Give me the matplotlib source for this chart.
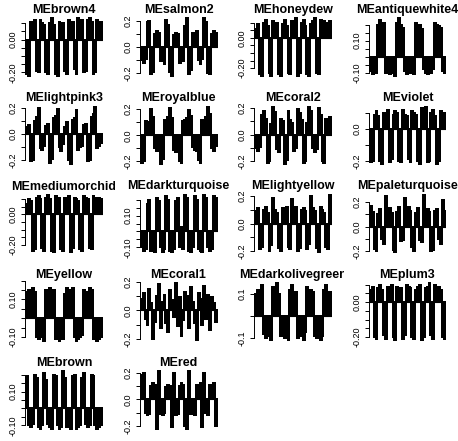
import matplotlib
matplotlib.use('Agg')
import matplotlib.pyplot as plt
from matplotlib.transforms import Bbox, TransformedBbox

plt.rcParams['font.family'] = ['Liberation Sans', 'DejaVu Sans']

# module eigengene names (one panel each)
modules = ['MEbrown4', 'MEsalmon2', 'MEhoneydew', 'MEantiquewhite4',
           'MElightpink3', 'MEroyalblue', 'MEcoral2', 'MEviolet',
           'MEmediumorchid', 'MEdarkturquoise', 'MElightyellow', 'MEpaleturquoise',
           'MEyellow', 'MEcoral1', 'MEdarkolivegreen', 'MEplum3',
           'MEbrown', 'MEred']

# eigengene values per sample
brown4 = [-0.21, -0.22, 0.11, 0.09, 0.12, -0.19, -0.20, 0.12, 0.10, 0.09,
          -0.20, -0.21, 0.10, 0.13, 0.09, -0.21, -0.22, 0.11, 0.09, 0.10,
          -0.19, -0.21, 0.12, 0.10, 0.11, -0.18, -0.21, 0.13, 0.11, 0.12,
          -0.20, -0.19, 0.12, 0.13, 0.11, -0.21, -0.20, 0.12, 0.10, 0.11]
salmon2 = [-0.10, -0.12, -0.09, 0.19, 0.20, -0.21, -0.19, 0.10, 0.12, 0.11,
           -0.11, -0.09, -0.13, 0.21, 0.17, -0.19, -0.22, 0.09, 0.11, 0.10,
           -0.12, -0.10, -0.11, 0.16, 0.22, -0.21, -0.18, 0.11, 0.09, 0.12,
           -0.10, -0.13, -0.09, 0.22, 0.19, -0.20, -0.21, 0.10, 0.12, 0.11]
honeydew = [0.06, 0.09, -0.24, -0.25, 0.10, 0.12, 0.08, -0.23, -0.25, 0.11,
            0.07, 0.10, -0.24, -0.25, 0.09, 0.12, 0.08, -0.23, -0.24, 0.11,
            0.10, 0.13, -0.25, -0.23, 0.10, 0.12, 0.08, -0.24, -0.25, 0.09,
            0.11, 0.13, -0.23, -0.24, 0.12, 0.10, 0.11, 0.09, 0.10, 0.11]
antiquewhite4 = [-0.09, -0.11, -0.08, -0.10, 0.20, 0.23, 0.19, 0.21, -0.10, -0.08,
                 -0.11, -0.09, -0.10, -0.12, 0.21, 0.24, 0.20, 0.18, -0.09, -0.11,
                 -0.08, -0.10, -0.09, -0.11, 0.21, 0.19, 0.20, 0.17, -0.08, -0.10,
                 -0.11, -0.09, -0.10, -0.08, 0.21, 0.20, 0.19, 0.18, -0.09, -0.10]
lightpink3 = [0.05, 0.07, -0.21, -0.20, 0.10, 0.13, 0.20, -0.11, -0.12, -0.09,
              0.06, 0.08, -0.22, -0.19, 0.12, 0.14, 0.19, -0.10, -0.13, -0.08,
              0.05, 0.09, -0.20, -0.23, 0.11, 0.12, 0.18, -0.12, -0.10, -0.09,
              0.07, 0.08, -0.21, -0.20, 0.13, 0.15, 0.21, -0.11, -0.09, -0.07]
royalblue = [-0.21, -0.20, 0.11, 0.09, 0.10, 0.20, 0.14, -0.10, -0.12, -0.09,
             -0.22, -0.18, 0.12, 0.10, 0.14, 0.21, 0.13, -0.11, -0.13, -0.10,
             -0.20, -0.21, 0.11, 0.12, 0.13, 0.19, 0.15, -0.09, -0.11, -0.12,
             -0.19, -0.21, 0.12, 0.11, 0.14, 0.22, 0.16, -0.10, -0.12, -0.08]
coral2 = [-0.10, -0.12, -0.09, 0.15, 0.18, 0.12, -0.21, -0.20, 0.08, 0.21,
          0.17, -0.11, -0.13, 0.12, 0.10, -0.22, -0.19, 0.18, 0.11, 0.09,
          -0.12, -0.10, 0.19, 0.16, 0.11, -0.21, -0.20, 0.09, 0.21, 0.18,
          -0.10, -0.13, -0.11, 0.20, 0.15, -0.20, -0.21, 0.12, 0.11, 0.13]
violet = [-0.21, -0.20, 0.09, 0.11, 0.08, -0.20, -0.22, 0.10, 0.08, 0.12,
          -0.21, -0.19, 0.09, 0.11, 0.10, -0.20, -0.21, 0.12, 0.09, 0.08,
          -0.19, -0.21, 0.11, 0.10, 0.09, -0.20, -0.22, 0.13, 0.09, 0.14,
          -0.21, -0.20, 0.10, 0.12, 0.08, -0.22, -0.20, 0.11, 0.09, 0.10]
mediumorchid = [0.07, 0.10, 0.09, -0.24, -0.23, 0.11, 0.12, 0.10, -0.22, -0.24,
                0.11, 0.13, 0.10, -0.24, -0.25, 0.12, 0.10, 0.11, -0.23, -0.24,
                0.11, 0.10, 0.12, -0.25, -0.22, 0.11, 0.10, 0.09, -0.23, -0.24,
                0.12, 0.11, 0.10, -0.22, -0.23, 0.12, 0.11, 0.10, 0.11, 0.10]
darkturquoise = [-0.10, -0.12, -0.11, 0.17, 0.20, -0.12, -0.11, -0.13, 0.21, 0.19,
                 -0.10, -0.13, -0.11, 0.22, 0.20, -0.12, -0.13, -0.11, 0.19, 0.21,
                 -0.10, 0.03, -0.11, 0.23, 0.21, -0.12, -0.13, -0.10, 0.22, 0.20,
                 -0.11, -0.12, -0.13, 0.23, 0.21, -0.10, -0.12, -0.11, 0.22, 0.21]
lightyellow = [0.09, 0.11, -0.19, -0.17, 0.10, 0.12, 0.08, -0.20, -0.16, 0.19,
               0.10, 0.08, -0.18, -0.20, 0.11, 0.09, 0.12, -0.17, -0.19, 0.18,
               0.08, 0.12, -0.20, -0.18, 0.10, 0.11, 0.09, -0.19, -0.15, 0.20,
               0.11, 0.09, -0.18, -0.21, 0.12, 0.10, 0.08, -0.17, -0.19, 0.21]
paleturquoise = [0.17, 0.12, -0.18, -0.20, 0.10, 0.14, -0.10, -0.14, 0.25, 0.13,
                 0.15, 0.11, -0.19, -0.21, 0.12, 0.16, -0.12, -0.11, 0.23, 0.14,
                 0.16, 0.13, -0.17, -0.20, 0.11, 0.15, -0.11, -0.13, 0.26, 0.12,
                 0.14, 0.12, -0.20, -0.19, 0.13, 0.14, -0.10, -0.14, 0.22, 0.13]
yellow = [0.14, 0.15, 0.13, 0.16, 0.14, -0.10, -0.11, -0.09, -0.10, -0.12,
          0.15, 0.13, 0.16, 0.14, 0.15, -0.11, -0.10, -0.12, -0.09, -0.11,
          0.13, 0.16, 0.15, 0.14, 0.16, -0.10, -0.12, -0.11, -0.10, -0.09,
          0.15, 0.14, 0.13, 0.16, 0.15, -0.11, -0.10, -0.12, -0.11, -0.10]
coral1 = [0.08, 0.12, -0.06, -0.10, 0.15, 0.05, -0.20, -0.08, 0.10, 0.18,
          -0.12, 0.06, 0.11, -0.09, -0.15, 0.14, 0.07, -0.05, 0.19, -0.11,
          0.09, -0.18, -0.07, 0.13, 0.10, -0.12, 0.16, 0.06, -0.09, -0.21,
          0.12, 0.08, -0.10, 0.17, -0.06, 0.11, -0.14, 0.09, 0.05, -0.08]
darkolivegreen = [0.10, 0.12, 0.09, 0.14, -0.08, -0.10, -0.07, -0.09, -0.11, 0.13,
                  0.11, 0.15, 0.10, -0.09, -0.07, -0.10, -0.08, -0.11, 0.12, 0.14,
                  0.09, 0.11, -0.10, -0.08, -0.09, -0.11, -0.07, 0.13, 0.10, 0.12,
                  0.11, -0.09, -0.10, -0.08, -0.11, -0.09, 0.12, 0.14, 0.10, 0.11]
plum3 = [0.07, 0.09, -0.20, -0.21, 0.08, 0.10, 0.07, -0.19, -0.21, 0.09,
         0.08, 0.10, -0.20, -0.22, 0.09, 0.07, 0.08, -0.21, -0.19, 0.10,
         0.09, 0.08, -0.20, -0.21, 0.07, 0.09, 0.10, -0.22, -0.20, 0.08,
         0.09, 0.11, -0.19, -0.21, 0.10, 0.08, 0.09, 0.07, -0.20, -0.21]
brown = [0.19, -0.10, -0.11, -0.09, 0.20, 0.18, -0.11, -0.12, -0.10, 0.21,
         0.17, -0.09, -0.11, -0.12, 0.20, 0.19, -0.10, -0.12, -0.11, 0.22,
         0.18, -0.11, -0.10, -0.12, 0.19, 0.20, -0.12, -0.11, -0.10, 0.18,
         0.21, -0.09, -0.11, -0.10, 0.20, 0.19, -0.10, -0.12, -0.11, -0.10]
red = [0.18, 0.20, -0.10, -0.12, -0.11, 0.10, 0.12, 0.11, -0.22, 0.21,
       -0.11, -0.12, -0.10, 0.09, 0.11, 0.10, -0.21, 0.20, -0.12, -0.11,
       0.10, 0.12, 0.11, -0.20, -0.22, 0.21, -0.11, -0.10, -0.12, 0.11,
       0.09, 0.12, -0.21, 0.20, -0.10, -0.12, 0.11, 0.10, 0.12, -0.20]

values = [brown4, salmon2, honeydew, antiquewhite4,
          lightpink3, royalblue, coral2, violet,
          mediumorchid, darkturquoise, lightyellow, paleturquoise,
          yellow, coral1, darkolivegreen, plum3,
          brown, red]

# y tick positions and the labels that survive in the picture
t_a = [-0.20, -0.15, -0.10, -0.05, 0.00, 0.05, 0.10]
l_a = ['-0.20', '', '', '', '0.00', '', '']
t_b = [-0.2, -0.1, 0.0, 0.1, 0.2]
l_b = ['-0.2', '', '0.0', '', '0.2']
t_c = [-0.10, -0.05, 0.00, 0.05, 0.10, 0.15, 0.20]
l_c = ['-0.10', '', '', '', '0.10', '', '']
t_d = [-0.2, -0.1, 0.0, 0.1]
l_d = ['-0.2', '', '0.0', '']
t_e = [-0.1, 0.0, 0.1]
l_e = ['-0.1', '', '0.1']

ticks = [t_a, t_b, t_a, t_c,
         t_b, t_b, t_b, t_d,
         t_a, t_c, t_b, t_b,
         t_c, t_b, t_e, t_a,
         t_c, t_b]
tick_labels = [l_a, l_b, l_a, l_c,
               l_b, l_b, l_b, l_d,
               l_a, l_c, l_b, l_b,
               l_c, l_b, l_e, l_a,
               l_c, l_b]

W, H = 458, 441
fig = plt.figure(figsize=(W / 100, H / 100), dpi=100)

for k, (name, vals, tk, tl) in enumerate(zip(modules, values, ticks, tick_labels)):
    r, c = divmod(k, 4)
    left = 25 + 114.5 * c
    top = 16 + 88.25 * r
    ax = fig.add_axes([left / W, 1 - (top + 62) / H, 78 / W, 62 / H])

    n = len(vals)
    ax.bar(range(n), vals, width=1.0, color='black', edgecolor='black',
           linewidth=0.3, antialiased=False)
    ax.plot([-0.5, n - 0.5], [0, 0], color='black', linewidth=0.8)
    ax.set_xlim(-1.2, n)
    lo, hi = min(min(vals), 0), max(max(vals), 0)
    pad = 0.04 * (hi - lo)
    ax.set_ylim(lo - pad, hi + pad)

    for s in ['top', 'right', 'bottom']:
        ax.spines[s].set_visible(False)
    ax.spines['left'].set_bounds(tk[0], tk[-1])
    ax.spines['left'].set_linewidth(0.7)
    ax.set_xticks([])
    ax.set_yticks(tk)
    ax.set_yticklabels(tl, rotation=90, va='center', fontsize=6.5)
    ax.tick_params(axis='y', length=3, width=0.7, pad=2)

    title = ax.set_title(name, fontsize=9, fontweight='bold', pad=1)
    cell = TransformedBbox(Bbox([[114.5 * c / W, 0], [114.5 * (c + 1) / W, 1]]), fig.transFigure)
    title.set_clip_box(cell)
    title.set_clip_on(True)

fig.savefig('out.png', dpi=100)
